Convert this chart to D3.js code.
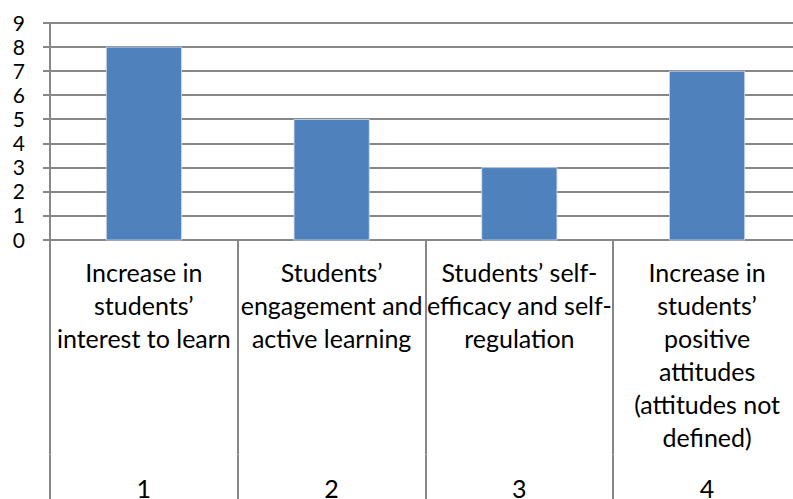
<!DOCTYPE html>
<html>
<head>
<meta charset="utf-8">
<script src="https://cdn.jsdelivr.net/npm/d3@7"></script>
<style>
  html, body { margin: 0; padding: 0; background: #fff; }
  svg { display: block; }
</style>
</head>
<body>
<svg id="chart" width="793" height="499"></svg>
<script>
const categories = ["1", "2", "3", "4"];
const values = [8, 5, 3, 7];
const labelLines = [
  ["Increase in", "students\u2019", "interest to learn"],
  ["Students\u2019", "engagement and", "active learning"],
  ["Students\u2019 self-", "efficacy and self-", "regulation"],
  ["Increase in", "students\u2019", "positive", "attitudes", "(attitudes not", "defined)"]
];
const yTicks = [0, 1, 2, 3, 4, 5, 6, 7, 8, 9];

(function () {
const svg = d3.select("#chart");
const pLeft = 50, pRight = 801, pTop = 23, pBottom = 240;
const gridColor = "#878787";
const font = "Lato, 'Open Sans', sans-serif";

const x = d3.scaleBand().domain(categories).range([pLeft, pRight]).padding(0);
const xBar = d3.scaleBand().domain(categories).range([pLeft, pRight]).paddingInner(0.6).paddingOuter(0.3);
const y = d3.scaleLinear().domain([0, 9]).range([pBottom, pTop]);

// gridlines with ticks
svg.append("g").selectAll("line").data(yTicks).join("line")
  .attr("x1", pLeft - 7).attr("x2", 793)
  .attr("y1", d => Math.round(y(d))).attr("y2", d => Math.round(y(d)))
  .attr("stroke", gridColor).attr("stroke-width", 2);

// y tick labels
svg.append("g").selectAll("text").data(yTicks).join("text")
  .attr("x", 25).attr("y", d => y(d))
  .attr("dy", "0.36em")
  .attr("text-anchor", "end")
  .attr("font-family", font).attr("font-size", 21).attr("fill", "#000")
  .text(d => d);

// bars
svg.append("g").selectAll("rect").data(values).join("rect")
  .attr("x", (d, i) => xBar(categories[i]))
  .attr("width", xBar.bandwidth())
  .attr("y", d => y(d))
  .attr("height", d => y(0) - y(d))
  .attr("fill", "#4F81BD")
  .attr("stroke", "#c9d6e8").attr("stroke-width", 0.8);

// y axis line
svg.append("line")
  .attr("x1", pLeft).attr("x2", pLeft)
  .attr("y1", pTop).attr("y2", 499)
  .attr("stroke", gridColor).attr("stroke-width", 2);

// category separators
const seps = categories.map(c => x(c)).concat([x(categories[categories.length - 1]) + x.bandwidth()]);
svg.append("g").selectAll("line").data(seps.slice(1)).join("line")
  .attr("x1", d => Math.round(d)).attr("x2", d => Math.round(d))
  .attr("y1", pBottom).attr("y2", 499)
  .attr("stroke", gridColor).attr("stroke-width", 2);

// faint break between label levels
svg.append("g").selectAll("line").data(seps.slice(0, 4)).join("line")
  .attr("x1", d => Math.round(d) - 1).attr("x2", d => Math.round(d) + 1)
  .attr("y1", 454.5).attr("y2", 454.5)
  .attr("stroke", "#a8a8a8").attr("stroke-width", 1);

// category text
const lineH = 33;
const cat = svg.append("g").selectAll("text").data(labelLines).join("text")
  .attr("text-anchor", "middle")
  .attr("font-family", font).attr("font-size", 25).attr("fill", "#000");
cat.selectAll("tspan").data((d, i) => d.map(t => ({ t, i }))).join("tspan")
  .attr("x", d => x(categories[d.i]) + x.bandwidth() / 2)
  .attr("y", (d, j) => 282 + j * lineH)
  .text(d => d.t);

// level-2 labels
svg.append("g").selectAll("text").data(categories).join("text")
  .attr("x", d => x(d) + x.bandwidth() / 2)
  .attr("y", 498)
  .attr("text-anchor", "middle")
  .attr("font-family", font).attr("font-size", 25).attr("fill", "#000")
  .text(d => d);
})();
</script>
</body>
</html>
